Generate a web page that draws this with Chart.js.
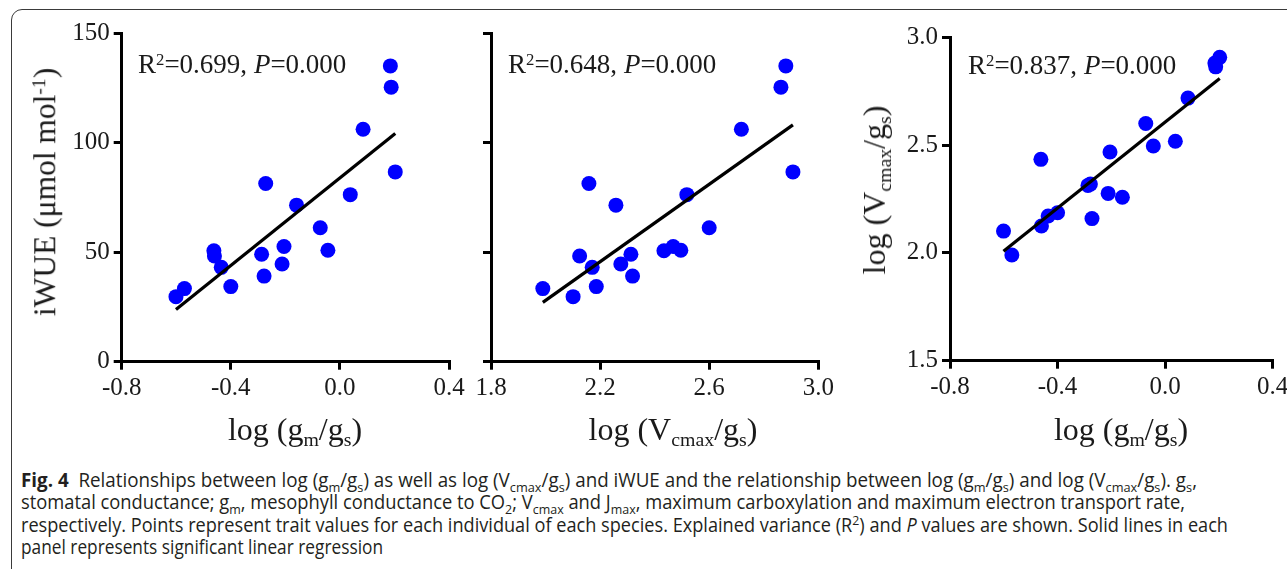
<!DOCTYPE html>
<html>
<head>
<meta charset="utf-8">
<script src="https://cdn.jsdelivr.net/npm/chart.js@4.4.1/dist/chart.umd.min.js"></script>
<style>
  body { margin: 0; width: 1287px; height: 569px; overflow: hidden; position: relative; background: #fff; }
  .frame { position: absolute; left: 11px; top: 9px; width: 1320px; height: 620px; border: 1px solid #3a3a3a; border-radius: 11px; }
  canvas { position: absolute; }
  .serif { position: absolute; white-space: nowrap; color: #1a1a1a; font-family: 'Liberation Serif', 'Times New Roman', serif; }
  .title { font-size: 32px; line-height: 32px; }
  .rot { transform: translate(-50%, -50%) rotate(-90deg); }
  .hx { transform: translateX(-50%); }
  .stat { font-size: 27px; line-height: 27px; }
  .sb { font-size: 0.62em; vertical-align: -0.3em; line-height: 0; }
  .sp { font-size: 0.62em; vertical-align: 0.5em; line-height: 0; }
  .cap { position: absolute; left: 21px; white-space: nowrap; font-family: 'Open Sans', sans-serif; font-size: 19.5px; line-height: 22px; color: #231f20; }
  .cap span.line { display: inline-block; transform-origin: 0 0; }
  .cap sub, .cap sup { font-size: 0.68em; line-height: 0; }
</style>
</head>
<body>
<div class="frame"></div>

<canvas id="c1" width="470" height="440" style="left:0;top:10px"></canvas>
<canvas id="c2" width="370" height="440" style="left:470px;top:10px"></canvas>
<canvas id="c3" width="460" height="440" style="left:840px;top:10px"></canvas>

<!-- axis titles -->
<div class="serif title hx" style="left:295px;top:413px">log (g<span class="sb">m</span>/g<span class="sb">s</span>)</div>
<div class="serif title hx" style="left:673px;top:413px">log (V<span class="sb">cmax</span>/g<span class="sb">s</span>)</div>
<div class="serif title hx" style="left:1121px;top:413px">log (g<span class="sb">m</span>/g<span class="sb">s</span>)</div>
<div class="serif title rot" style="left:45px;top:192px;font-size:31.5px;line-height:31.5px">iWUE (μmol mol<span class="sp">-1</span>)</div>
<div class="serif title rot" style="left:874px;top:190px">log (V<span class="sb">cmax</span>/g<span class="sb">s</span>)</div>

<!-- fit statistics -->
<div class="serif stat" id="s1" style="left:138px;top:51px"></div>
<div class="serif stat" id="s2" style="left:508px;top:51px"></div>
<div class="serif stat" id="s3" style="left:968px;top:52px"></div>

<div class="cap" style="top:469px"><span class="line" data-w="1176"><b>Fig. 4</b>&nbsp; Relationships between log (g<sub>m</sub>/g<sub>s</sub>) as well as log (V<sub>cmax</sub>/g<sub>s</sub>) and iWUE and the relationship between log (g<sub>m</sub>/g<sub>s</sub>) and log (V<sub>cmax</sub>/g<sub>s</sub>). g<sub>s</sub>,</span></div>
<div class="cap" style="top:491px"><span class="line" data-w="1164">stomatal conductance; g<sub>m</sub>, mesophyll conductance to CO<sub>2</sub>; V<sub>cmax</sub> and J<sub>max</sub>, maximum carboxylation and maximum electron transport rate,</span></div>
<div class="cap" style="top:514px"><span class="line" data-w="1207">respectively. Points represent trait values for each individual of each species. Explained variance (R<sup>2</sup>) and <i>P</i> values are shown. Solid lines in each</span></div>
<div class="cap" style="top:536px"><span class="line" data-w="362">panel represents significant linear regression</span></div>

<script>
// one value per individual, same order in every array
const logGmGs = [-0.601, -0.570, -0.462, -0.460, -0.435, -0.400, -0.287, -0.278, -0.272, -0.205,
                 -0.212, -0.159, -0.072, -0.044, 0.038, 0.085, 0.185, 0.188, 0.203];
const logVcmaxGs = [2.101, 1.990, 2.434, 2.125, 2.171, 2.186, 2.313, 2.319, 2.159, 2.468,
                    2.276, 2.258, 2.600, 2.496, 2.518, 2.718, 2.881, 2.863, 2.907];
const iWUE = [29.7, 33.4, 50.7, 48.3, 43.1, 34.3, 49.1, 39.1, 81.4, 52.6,
              44.6, 71.5, 61.2, 50.9, 76.3, 106.2, 135.1, 125.4, 86.7];

const gmTicks = [-0.8, -0.4, 0.0, 0.4];
const vcTicks = [1.8, 2.2, 2.6, 3.0];
const iwueTicks = [0, 50, 100, 150];
const vcAxisTicks = [1.5, 2.0, 2.5, 3.0];

const r2Labels = ['0.699', '0.648', '0.837'];
const pLabels = ['0.000', '0.000', '0.000'];

// least squares line between the smallest and largest x
function fitLine(xs, ys) {
  const n = xs.length;
  const mx = xs.reduce((a, b) => a + b, 0) / n;
  const my = ys.reduce((a, b) => a + b, 0) / n;
  let sxy = 0, sxx = 0;
  for (let i = 0; i < n; i++) {
    sxy += (xs[i] - mx) * (ys[i] - my);
    sxx += (xs[i] - mx) * (xs[i] - mx);
  }
  const b = sxy / sxx, a = my - b * mx;
  const x0 = Math.min(...xs), x1 = Math.max(...xs);
  return [{ x: x0, y: a + b * x0 }, { x: x1, y: a + b * x1 }];
}

const tickFont = { family: "'Liberation Serif', 'Times New Roman', serif", size: 25 };

function axis(ticks, dec, fitSize, showLabels) {
  return {
    type: 'linear',
    min: ticks[0],
    max: ticks[ticks.length - 1],
    afterBuildTicks: s => { s.ticks = ticks.map(v => ({ value: v })); },
    afterFit: fitSize,
    grid: { drawOnChartArea: false, drawTicks: true, tickLength: 8, tickWidth: 3, tickColor: '#000', lineWidth: 3 },
    border: { display: true, width: 3, color: '#000' },
    ticks: {
      color: '#1a1a1a',
      font: tickFont,
      padding: 4,
      maxRotation: 0,
      autoSkip: false,
      callback: (v, i) => showLabels ? ticks[i].toFixed(dec) : ''
    }
  };
}

function makePanel(id, xs, ys, g) {
  const pts = xs.map((x, i) => ({ x: x, y: ys[i] }));
  new Chart(document.getElementById(id), {
    type: 'scatter',
    data: {
      datasets: [
        { data: fitLine(xs, ys), showLine: true, borderColor: '#000', borderWidth: 3.2, pointRadius: 0, fill: false },
        { data: pts, backgroundColor: '#0000ff', borderWidth: 0, pointRadius: 7.5, pointHoverRadius: 7.5 }
      ]
    },
    options: {
      responsive: false,
      animation: false,
      events: [],
      layout: { autoPadding: false, padding: { top: g.top, right: g.right, left: 0, bottom: 0 } },
      plugins: { legend: { display: false }, tooltip: { enabled: false } },
      scales: {
        x: axis(g.xTicks, 1, s => { s.height = g.xH; }, true),
        y: axis(g.yTicks, g.yDec, s => { s.width = g.yW; }, g.yLabels)
      }
    }
  });
}

makePanel('c1', logGmGs, iWUE, { top: 23.3, right: 21, xH: 88.3, yW: 121.7, xTicks: gmTicks, yTicks: iwueTicks, yDec: 0, yLabels: true });
makePanel('c2', logVcmaxGs, iWUE, { top: 23.3, right: 21.7, xH: 88.3, yW: 21, xTicks: vcTicks, yTicks: iwueTicks, yDec: 0, yLabels: false });
makePanel('c3', logGmGs, logVcmaxGs, { top: 27.3, right: 27.3, xH: 89.3, yW: 110, xTicks: gmTicks, yTicks: vcAxisTicks, yDec: 1, yLabels: true });

['s1', 's2', 's3'].forEach((id, i) => {
  document.getElementById(id).innerHTML = 'R<span class="sp">2</span>=' + r2Labels[i] + ', <i>P</i>=' + pLabels[i];
});

// squeeze each caption line to its set width
document.querySelectorAll('.cap span.line').forEach(el => {
  const w = el.getBoundingClientRect().width;
  el.style.transform = 'scaleX(' + (parseFloat(el.dataset.w) / w) + ')';
});
</script>
</body>
</html>
